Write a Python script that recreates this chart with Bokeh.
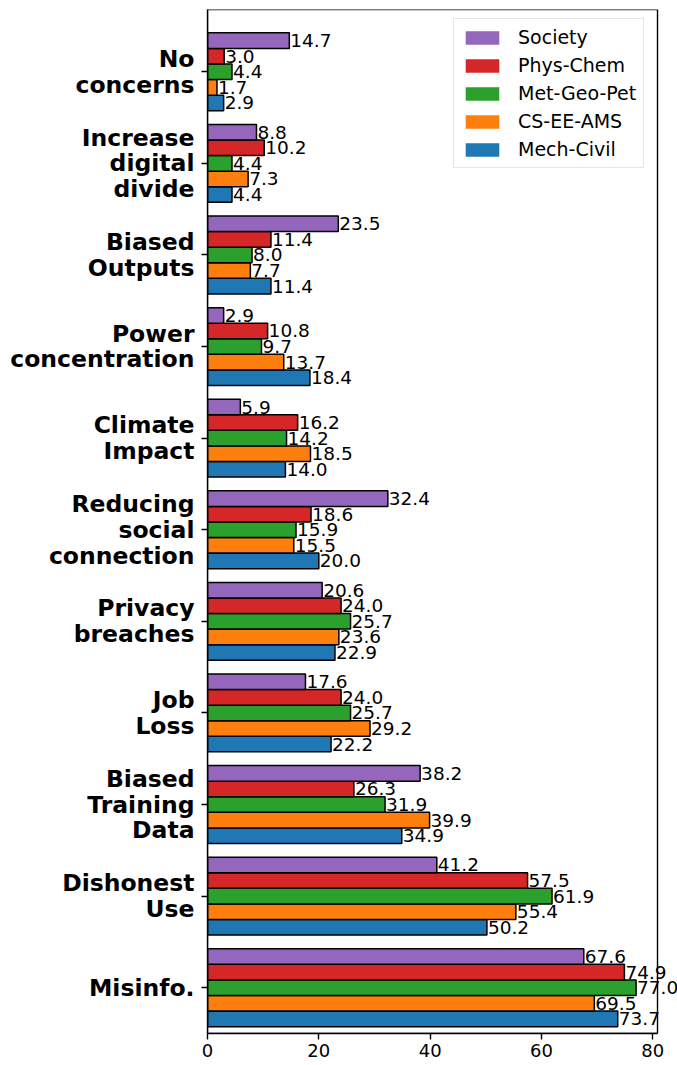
from bokeh.plotting import figure
from bokeh.models import (Range1d, FixedTicker, ColumnDataSource, LabelSet,
                          Legend, LegendItem, BoxAnnotation)
from bokeh.core.properties import value
from bokeh.embed import file_html
from bokeh.resources import INLINE

# Categories listed from bottom to top
categories = ["Misinfo.", "Dishonest\nUse", "Biased\nTraining\nData", "Job\nLoss",
              "Privacy\nbreaches", "Reducing\nsocial\nconnection", "Climate\nImpact",
              "Power\nconcentration", "Biased\nOutputs", "Increase\ndigital\ndivide",
              "No\nconcerns"]

mech_civil  = [73.7, 50.2, 34.9, 22.2, 22.9, 20.0, 14.0, 18.4, 11.4, 4.4, 2.9]
cs_ee_ams   = [69.5, 55.4, 39.9, 29.2, 23.6, 15.5, 18.5, 13.7, 7.7, 7.3, 1.7]
met_geo_pet = [77.0, 61.9, 31.9, 25.7, 25.7, 15.9, 14.2, 9.7, 8.0, 4.4, 4.4]
phys_chem   = [74.9, 57.5, 26.3, 24.0, 24.0, 18.6, 16.2, 10.8, 11.4, 10.2, 3.0]
society     = [67.6, 41.2, 38.2, 17.6, 20.6, 32.4, 5.9, 2.9, 23.5, 8.8, 14.7]

series_names = ["Mech-Civil", "CS-EE-AMS", "Met-Geo-Pet", "Phys-Chem", "Society"]
series_values = [mech_civil, cs_ee_ams, met_geo_pet, phys_chem, society]
colors = ["#1f77b4", "#ff7f0e", "#2ca02c", "#d62728", "#9467bd"]

x_ticks = [0, 20, 40, 60, 80]

x_max = 80.85          # axis limit (frame border)
x_view = 84.44         # visible extent so that value labels are not clipped
bar_h = 0.17
positions = list(range(len(categories)))

p = figure(width=677, height=1065, output_backend="svg", toolbar_location=None,
           x_range=Range1d(0, x_view), y_range=Range1d(-0.5, 10.68),
           min_border_left=207, min_border_right=0, min_border_top=9,
           min_border_bottom=32)

renderers = {}
for k, (name, vals, col) in enumerate(zip(series_names, series_values, colors)):
    off = (k - 2) * bar_h
    ys = [pp + off for pp in positions]
    src = ColumnDataSource(dict(y=ys, right=vals, txt=["%.1f" % v for v in vals]))
    p.hbar(y="y", left=0, right="right", height=bar_h, source=src,
           fill_color=col, line_color="black", line_width=1.5)
    lbl = LabelSet(x="right", y="y", text="txt", source=src, x_offset=1,
                   text_baseline="middle", text_align="left",
                   text_font=value("DejaVu Sans"), text_font_size=value("18.5px"),
                   text_color="#000000")
    p.add_layout(lbl)
    proxy = p.hbar(y="y", left=0, right="right", height=0, source=src,
                   fill_color=col, line_color=None)
    renderers[name] = proxy

items = [LegendItem(label=n, renderers=[renderers[n]], index=0)
         for n in reversed(series_names)]
legend = Legend(items=items, location=(246, 865), margin=0, padding=7, spacing=6,
                glyph_width=42, glyph_height=17, label_standoff=15,
                label_text_font="DejaVu Sans", label_text_font_size="19px",
                label_text_color="#000000", border_line_color="#cccccc",
                border_line_width=1, background_fill_alpha=0.8)
p.add_layout(legend)

p.xgrid.visible = False
p.ygrid.visible = False
p.outline_line_color = None

# axes frame (spines) ending at the axis limit
p.add_layout(BoxAnnotation(left=0, right=x_max, fill_color=None, fill_alpha=0,
                           line_color="black", line_alpha=1.0, line_width=1.4,
                           level="overlay"))

p.xaxis.ticker = FixedTicker(ticks=x_ticks)
p.yaxis.ticker = FixedTicker(ticks=positions)
p.yaxis.major_label_overrides = {pp: c for pp, c in zip(positions, categories)}
p.xaxis.bounds = (0, x_max)

for ax in (p.xaxis[0], p.yaxis[0]):
    ax.axis_line_color = "black"
    ax.axis_line_width = 1.4
    ax.major_tick_line_color = "black"
    ax.major_tick_line_width = 1.4
    ax.major_tick_out = 6
    ax.major_tick_in = 0
    ax.minor_tick_line_color = None
    ax.major_label_text_color = "#000000"
    ax.major_label_text_font = "DejaVu Sans"

p.xaxis.major_label_text_font_size = "18px"
p.xaxis.major_label_standoff = 4
p.yaxis.major_label_text_font_size = "23.5px"
p.yaxis.major_label_text_font_style = "bold"
p.yaxis.major_label_standoff = 7
p.yaxis.major_label_text_line_height = 0.92

open("out.html", "w").write(file_html(p, INLINE))
